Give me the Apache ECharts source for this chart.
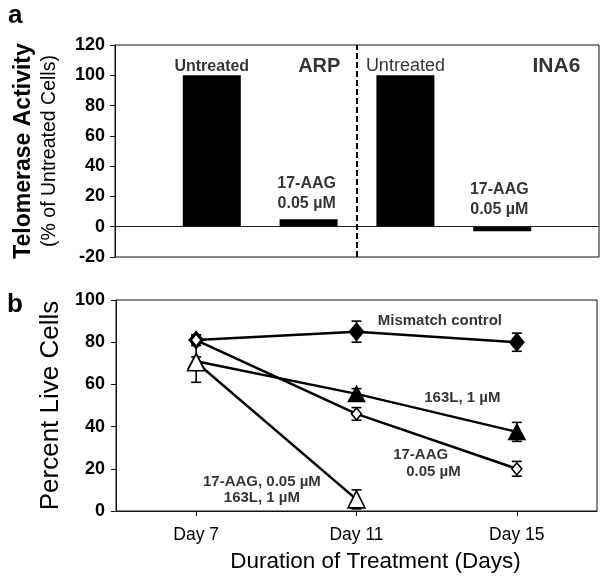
<!DOCTYPE html>
<html>
<head>
<meta charset="utf-8">
<script src="https://cdn.jsdelivr.net/npm/echarts@6/dist/echarts.min.js"></script>
<style>
html,body{margin:0;padding:0;background:#fff;}
#chart{width:606px;height:584px;}
</style>
</head>
<body>
<div id="chart"></div>
<script>
// ---------- Data ----------
// Panel a: telomerase activity (% of untreated cells)
const barCategories = ['ARP Untreated', 'ARP 17-AAG 0.05 µM', 'INA6 Untreated', 'INA6 17-AAG 0.05 µM'];
const telomeraseActivity = [100, 5, 100, -3];
const topYTicks = [-20, 0, 20, 40, 60, 80, 100, 120];

// Panel b: percent live cells
const days = ['Day 7', 'Day 11', 'Day 15'];
const mismatchControl = [81, 85, 80];
const mismatchErr = [2.5, 5, 4.3];
const aag005 = [81, 46, 20];
const aag005Err = [2.5, 3, 3.5];
const l163 = [71, 55.5, 37.5];
const l163Err = [2, 2.5, 4.5];
const combo = [70.5, 5.5, null];
const comboErr = [9.5, 4.5, null];
const bottomYTicks = [0, 20, 40, 60, 80, 100];

const FONT = 'Liberation Sans, Arial, Helvetica, sans-serif';
const BLACK = '#000';

const chart = echarts.init(document.getElementById('chart'), null, {renderer: 'canvas'});

function errorBars(values, errs) {
  const data = [];
  values.forEach((v, i) => {
    if (v != null && errs[i] != null) data.push([i, v - errs[i], v + errs[i]]);
  });
  return {
    type: 'custom', xAxisIndex: 1, yAxisIndex: 1, silent: true, z: 1,
    encode: {x: 0, y: [1, 2]},
    data: data,
    renderItem: function (params, api) {
      const x = api.value(0);
      const lo = api.coord([x, api.value(1)]);
      const hi = api.coord([x, api.value(2)]);
      const w = 5;
      const st = {stroke: BLACK, lineWidth: 1.6};
      return {type: 'group', children: [
        {type: 'line', shape: {x1: lo[0], y1: lo[1], x2: hi[0], y2: hi[1]}, style: st},
        {type: 'line', shape: {x1: lo[0] - w, y1: lo[1], x2: lo[0] + w, y2: lo[1]}, style: st},
        {type: 'line', shape: {x1: hi[0] - w, y1: hi[1], x2: hi[0] + w, y2: hi[1]}, style: st}
      ]};
    }
  };
}

function lineSeries(name, values, symbol, size, filled) {
  return {
    name: name, type: 'line', xAxisIndex: 1, yAxisIndex: 1, z: 3,
    data: values, connectNulls: false,
    symbol: symbol, symbolSize: size, showAllSymbol: true,
    lineStyle: {color: BLACK, width: 2.5},
    itemStyle: {color: filled ? BLACK : '#fff', borderColor: BLACK, borderWidth: 1.6, opacity: 1},
    emphasis: {disabled: true}
  };
}

function noteItem(x, y, text, fontSize, bold) {
  return {
    value: [x, y], name: text,
    label: {show: true, position: 'inside', formatter: '{b}', color: BLACK,
            fontFamily: FONT, fontSize: fontSize, fontWeight: bold ? 'bold' : 'normal',
            lineHeight: Math.round(fontSize * 1.25), align: 'center'}
  };
}

const topNotes = [
  noteItem(1.0, 106, 'Untreated', 16, true),
  noteItem(2.11, 106, 'ARP', 20, true),
  noteItem(3.0, 106, 'Untreated', 18, false),
  noteItem(4.56, 106, 'INA6', 21, true),
  noteItem(1.98, 21.6, '17-AAG\n0.05 µM', 16, true),
  noteItem(3.97, 18, '17-AAG\n0.05 µM', 16, true)
];
const bottomNotes = [
  noteItem(1.52, 90, 'Mismatch control', 15, true),
  noteItem(1.66, 53.4, '163L, 1 µM', 15, true),
  noteItem(1.40, 26.5, '17-AAG', 15, true),
  noteItem(1.48, 18.5, '0.05 µM', 15, true),
  noteItem(0.41, 13.7, '17-AAG, 0.05 µM', 15, true),
  noteItem(0.41, 6, '163L, 1 µM', 15, true)
];

const noteSeries = (xi, yi, data) => ({
  type: 'scatter', xAxisIndex: xi, yAxisIndex: yi, symbolSize: 1, silent: true, z: 5,
  itemStyle: {color: 'rgba(0,0,0,0)'}, data: data
});

const option = {
  animation: false,
  backgroundColor: '#fff',
  textStyle: {fontFamily: FONT},
  grid: [
    {left: 115, right: 7, top: 45, height: 212, show: true, borderColor: '#111', borderWidth: 1,
     backgroundColor: 'transparent', containLabel: false, outerBoundsMode: 'none'},
    {left: 116, right: 9, top: 300, height: 211, show: true, borderColor: '#111', borderWidth: 1,
     backgroundColor: 'transparent', containLabel: false, outerBoundsMode: 'none'}
  ],
  xAxis: [
    {gridIndex: 0, type: 'value', min: 0, max: 5, show: true,
     axisLine: {show: false, onZero: false}, axisTick: {show: false}, axisLabel: {show: false}, splitLine: {show: false}},
    {gridIndex: 1, type: 'category', data: days, boundaryGap: true,
     axisLine: {show: true, onZero: false, lineStyle: {color: '#111', width: 1}},
     axisTick: {show: true, alignWithLabel: true, inside: false, length: 5, lineStyle: {color: '#111', width: 1}},
     axisLabel: {color: BLACK, fontFamily: FONT, fontSize: 17.5, margin: 15},
     splitLine: {show: false},
     name: 'Duration of Treatment (Days)', nameLocation: 'middle', nameGap: 39,
     nameTextStyle: {color: BLACK, fontFamily: FONT, fontSize: 22.5, padding: [0, 0, 0, 38]}},
    {gridIndex: 1, type: 'value', min: -0.5, max: 2.5, show: false, axisLine: {onZero: false}}
  ],
  yAxis: [
    {gridIndex: 0, type: 'value', min: topYTicks[0], max: topYTicks[topYTicks.length - 1], interval: 20,
     axisLine: {show: true, onZero: false, lineStyle: {color: '#111', width: 1}},
     axisTick: {show: true, inside: false, length: 5, lineStyle: {color: '#111', width: 1}},
     axisLabel: {color: BLACK, fontFamily: FONT, fontSize: 18, fontWeight: 'bold', margin: 10},
     splitLine: {show: false},
     name: '{a|Telomerase Activity}\n{b|(% of Untreated Cells)}',
     nameLocation: 'middle', nameRotate: 90, nameGap: 53,
     nameTextStyle: {align: 'center', rich: {
       a: {fontFamily: FONT, fontSize: 23, fontWeight: 'bold', color: BLACK, lineHeight: 29, align: 'center'},
       b: {fontFamily: FONT, fontSize: 19.5, color: BLACK, lineHeight: 24, align: 'center'}
     }}},
    {gridIndex: 1, type: 'value', min: bottomYTicks[0], max: bottomYTicks[bottomYTicks.length - 1], interval: 20,
     axisLine: {show: true, onZero: false, lineStyle: {color: '#111', width: 1}},
     axisTick: {show: true, inside: false, length: 5, lineStyle: {color: '#111', width: 1}},
     axisLabel: {color: BLACK, fontFamily: FONT, fontSize: 18, fontWeight: 'bold', margin: 11},
     splitLine: {show: false},
     name: 'Percent Live Cells', nameLocation: 'middle', nameRotate: 90, nameGap: 44,
     nameTextStyle: {color: BLACK, fontFamily: FONT, fontSize: 26}}
  ],
  graphic: [
    {type: 'text', left: 8, top: 3, style: {text: 'a', font: 'bold 26px ' + FONT, fill: BLACK}},
    {type: 'text', left: 7, top: 292, style: {text: 'b', font: 'bold 26px ' + FONT, fill: BLACK}}
  ],
  series: [
    {
      type: 'bar', xAxisIndex: 0, yAxisIndex: 0, barWidth: 58, silent: true,
      data: telomeraseActivity.map((v, i) => ({value: [i + 1, v], name: barCategories[i]})),
      itemStyle: {color: BLACK},
      markLine: {
        silent: true, symbol: ['none', 'none'], label: {show: false},
        data: [
          {yAxis: 0, lineStyle: {color: '#222', width: 1, type: 'solid'}},
          {xAxis: 2.5, lineStyle: {color: BLACK, width: 2, type: [6, 3]}}
        ]
      }
    },
    noteSeries(0, 0, topNotes),
    errorBars(mismatchControl, mismatchErr),
    errorBars(l163, l163Err),
    errorBars(aag005, aag005Err),
    errorBars(combo, comboErr),
    lineSeries('Mismatch control', mismatchControl, 'diamond', [14, 17], true),
    lineSeries('163L, 1 µM', l163, 'triangle', [16, 15], true),
    lineSeries('17-AAG 0.05 µM', aag005, 'diamond', [10, 12], false),
    lineSeries('17-AAG 0.05 µM + 163L 1 µM', combo, 'triangle', [17, 17], false),
    noteSeries(2, 1, bottomNotes)
  ]
};
chart.setOption(option);
</script>
</body>
</html>
